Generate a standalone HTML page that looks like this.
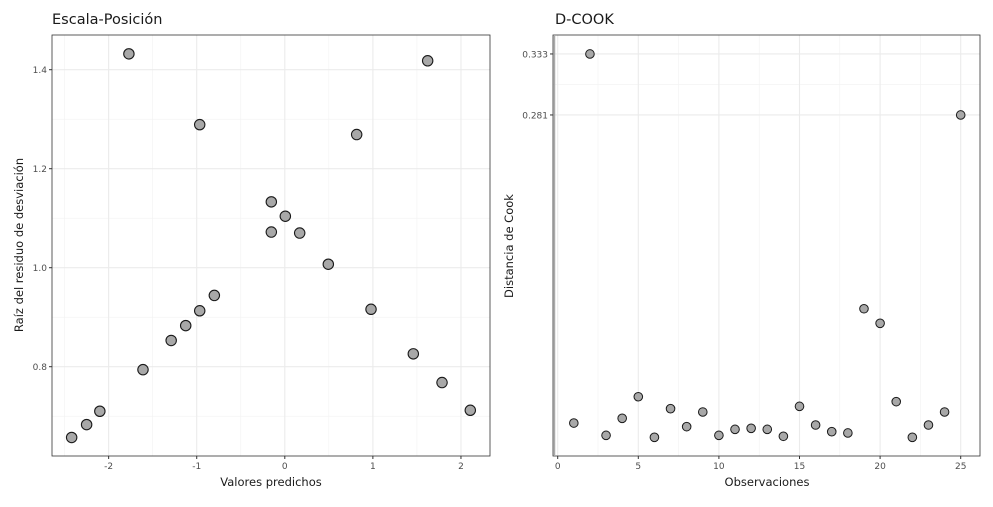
<!DOCTYPE html>
<html><head><meta charset="utf-8"><style>
body{margin:0;background:#fff;font-family:"Liberation Sans",sans-serif}
svg text{font-family:"DejaVu Sans",sans-serif}
</style></head><body>
<svg id="c" width="993" height="502" xmlns="http://www.w3.org/2000/svg"></svg>
<script>
const leftX=[-2.42,-2.25,-2.10,-1.77,-1.61,-1.29,-1.125,-0.966,-0.966,-0.80,-0.153,-0.153,0.006,0.169,0.494,0.816,0.979,1.459,1.622,1.785,2.106];
const leftY=[0.657,0.683,0.710,1.432,0.794,0.853,0.883,0.913,1.289,0.944,1.133,1.072,1.104,1.070,1.007,1.269,0.916,0.826,1.418,0.768,0.712];
const leftXTicks=[-2,-1,0,1,2];
const leftYTicks=[0.8,1.0,1.2,1.4];
const cookObs=[1,2,3,4,5,6,7,8,9,10,11,12,13,14,15,16,17,18,19,20,21,22,23,24,25];
const cookVal=[0.0184,0.333,0.0079,0.0224,0.0408,0.0062,0.0306,0.0153,0.0278,0.0079,0.0130,0.0139,0.0130,0.0071,0.0326,0.0167,0.0110,0.0099,0.1158,0.1034,0.0366,0.0062,0.0167,0.0278,0.281];
const cookXTicks=[0,5,10,15,20,25];
const cookYTicks=[0.281,0.333];

const svg=document.getElementById('c');
const NS='http://www.w3.org/2000/svg';
function mk(t,a,p){const e=document.createElementNS(NS,t);for(const k in a)e.setAttribute(k,a[k]);(p||svg).appendChild(e);return e;}

const lx=v=>284.8+v*88.08, ly=v=>69.7+(1.4-v)*495;
const L={x0:52,x1:490,y0:35,y1:456};
const gl=mk('g',{});


[-2.5,-1.5,-0.5,0.5,1.5].forEach(v=>mk('line',{x1:lx(v),x2:lx(v),y1:L.y0,y2:L.y1,stroke:'#f2f2f2','stroke-width':0.6},gl));
[0.7,0.9,1.1,1.3].forEach(v=>mk('line',{x1:L.x0,x2:L.x1,y1:ly(v),y2:ly(v),stroke:'#f2f2f2','stroke-width':0.6},gl));
leftXTicks.forEach(v=>{mk('line',{x1:lx(v),x2:lx(v),y1:L.y0,y2:L.y1,stroke:'#ebebeb','stroke-width':1.1},gl);
 mk('line',{x1:lx(v),x2:lx(v),y1:L.y1,y2:L.y1+3,stroke:'#333'},gl);
 const t=mk('text',{x:lx(v),y:L.y1+13,'text-anchor':'middle','font-size':9,fill:'#4d4d4d'},gl);t.textContent=v;
 
 });
leftYTicks.forEach(v=>{mk('line',{x1:L.x0,x2:L.x1,y1:ly(v),y2:ly(v),stroke:'#ebebeb','stroke-width':1.1},gl);
 mk('line',{x1:L.x0-3,x2:L.x0,y1:ly(v),y2:ly(v),stroke:'#333'},gl);
 const t=mk('text',{x:L.x0-5,y:ly(v)+3.5,'text-anchor':'end','font-size':9,fill:'#4d4d4d'},gl);t.textContent=v.toFixed(1);
 
 });
mk('rect',{x:L.x0,y:L.y0,width:L.x1-L.x0,height:L.y1-L.y0,fill:'none',stroke:'#333','stroke-width':0.8},gl);
leftX.forEach((v,i)=>{const c=mk('circle',{cx:lx(v),cy:ly(leftY[i]),r:5.2,fill:'#a8a8a8',stroke:'#1a1a1a','stroke-width':1.1},gl);
 
 });
let t=mk('text',{x:52,y:24,'font-size':14.5,fill:'#1a1a1a'});t.textContent='Escala-Posición';

t=mk('text',{x:271,y:486,'text-anchor':'middle','font-size':11.5,fill:'#1a1a1a'});t.textContent='Valores predichos';

t=mk('text',{x:0,y:0,'text-anchor':'middle','font-size':11.5,fill:'#1a1a1a',transform:'translate(23,245) rotate(-90)'});t.textContent='Raíz del residuo de desviación';


const rx=v=>557.7+v*16.12, ry=v=>444.6-v*1173.1;
const R={x0:553,x1:980,y0:35,y1:456};
const gr=mk('g',{});


[2.5,7.5,12.5,17.5,22.5].forEach(v=>mk('line',{x1:rx(v),x2:rx(v),y1:R.y0,y2:R.y1,stroke:'#f2f2f2','stroke-width':0.6},gr));
mk('line',{x1:R.x0,x2:R.x1,y1:ry(0.307),y2:ry(0.307),stroke:'#f2f2f2','stroke-width':0.6},gr);
cookXTicks.forEach(v=>{mk('line',{x1:rx(v),x2:rx(v),y1:R.y0,y2:R.y1,stroke:'#ebebeb','stroke-width':1.1},gr);
 mk('line',{x1:rx(v),x2:rx(v),y1:R.y1,y2:R.y1+3,stroke:'#333'},gr);
 const t=mk('text',{x:rx(v),y:R.y1+13,'text-anchor':'middle','font-size':9,fill:'#4d4d4d'},gr);t.textContent=v;
 
 });
cookYTicks.forEach(v=>{mk('line',{x1:R.x0,x2:R.x1,y1:ry(v),y2:ry(v),stroke:'#ebebeb','stroke-width':1.1},gr);
 mk('line',{x1:R.x0-3,x2:R.x0,y1:ry(v),y2:ry(v),stroke:'#333'},gr);
 const t=mk('text',{x:R.x0-5,y:ry(v)+3.5,'text-anchor':'end','font-size':9,fill:'#4d4d4d'},gr);t.textContent=v.toFixed(3);
 
 });
mk('rect',{x:R.x0,y:R.y0,width:R.x1-R.x0,height:R.y1-R.y0,fill:'none',stroke:'#333','stroke-width':0.8},gr);
mk('line',{x1:R.x0+1.5,x2:R.x0+1.5,y1:R.y0,y2:R.y1,stroke:'#aaa','stroke-width':1.5},gr);
cookObs.forEach((v,i)=>{const c=mk('circle',{cx:rx(v),cy:ry(cookVal[i]),r:4.3,fill:'#a8a8a8',stroke:'#1a1a1a','stroke-width':1},gr);
 
 });
t=mk('text',{x:555,y:24,'font-size':14.5,fill:'#1a1a1a'});t.textContent='D-COOK';

t=mk('text',{x:767,y:486,'text-anchor':'middle','font-size':11.5,fill:'#1a1a1a'});t.textContent='Observaciones';

t=mk('text',{x:0,y:0,'text-anchor':'middle','font-size':11.5,fill:'#1a1a1a',transform:'translate(513,246) rotate(-90)'});t.textContent='Distancia de Cook';

</script>
</body></html>
